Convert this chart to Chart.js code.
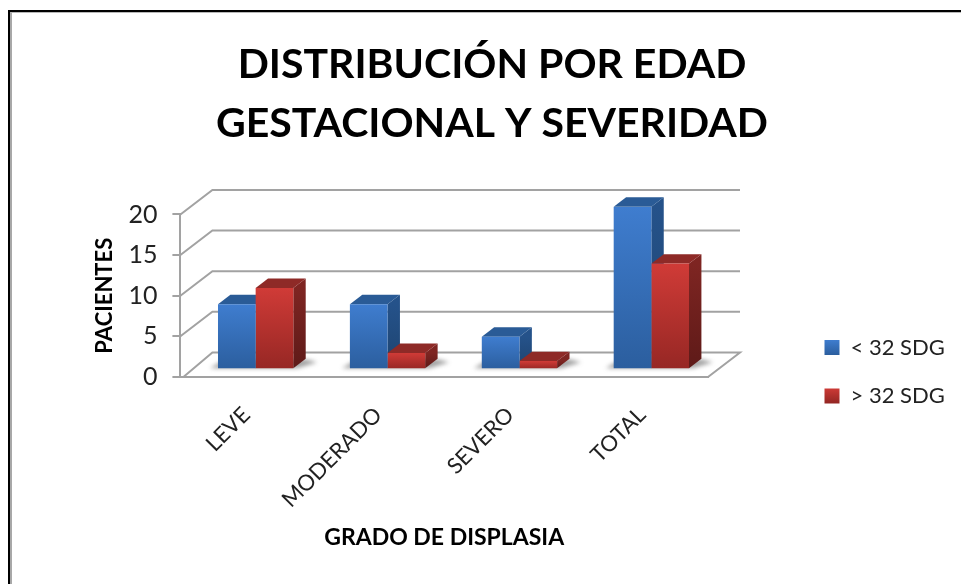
<!DOCTYPE html>
<html><head><meta charset="utf-8">
<style>
html,body{margin:0;padding:0;background:#fff;overflow:hidden;width:961px;height:584px}
#frameBlack{position:absolute;left:8px;top:10px;width:953px;height:574px;border-left:2px solid #000;border-top:2px solid #000;box-sizing:border-box}
#frameGray{position:absolute;left:10px;top:12px;width:951px;height:572px;border-left:2px solid #a8a8a8;border-top:1px solid #b8b8b8;box-sizing:border-box}
#wrap{position:absolute;left:0;top:0;width:961px;height:584px}
</style>
<script src="https://cdn.jsdelivr.net/npm/chart.js@4"></script>
</head><body>
<div id="frameBlack"></div><div id="frameGray"></div>
<div id="wrap"><canvas id="c" width="961" height="584"></canvas></div>
<script>
const categories = ['LEVE','MODERADO','SEVERO','TOTAL'];
const seriesNames = ['< 32 SDG','> 32 SDG'];
const under32 = [8,8,4,20];
const over32 = [10,2,1,13];
const titleLines = ['DISTRIBUCIÓN POR EDAD','GESTACIONAL Y SEVERIDAD'];
const yTitle = 'PACIENTES';
const xTitle = 'GRADO DE DISPLASIA';
const FONT = 'Lato';
const GRID = '#a2a2a2';
const DEPTH = {x:32,y:-24.5};
const BARPLANE = {x:9.3,y:-7.8};
const BARDEPTH = {x:12.4,y:-9.3};
const LEGEND_W = 188, LEGEND_LEFT = 798, LEGEND_TOP = 310;
const palette = [
 {top:'#3f7dcf',bot:'#2b5e9e',cap:'#2a5b96',sideT:'#25528a',sideB:'#1e4470'},
 {top:'#d03b37',bot:'#962724',cap:'#8e2a27',sideT:'#7e2522',sideB:'#5e1a18'}
];
function grad(ctx,y0,y1,a,b){const g=ctx.createLinearGradient(0,y0,0,y1);g.addColorStop(0,a);g.addColorStop(1,b);return g;}
function barFill(i){return c=>{
  const ch=c.chart, s=ch.scales.y;
  if(!s||!ch.chartArea||c.raw===undefined) return palette[i].top;
  return grad(ch.ctx,s.getPixelForValue(c.raw),s.getPixelForValue(0),palette[i].top,palette[i].bot);
};}
const threeD={
 id:'threeD',
 beforeDatasetsDraw(chart){
  const ctx=chart.ctx,{x,y}=chart.scales,a=chart.chartArea;
  const L=a.left,R=a.right,B=a.bottom;
  ctx.save();
  ctx.strokeStyle=GRID;ctx.lineWidth=2;
  ctx.beginPath();ctx.moveTo(L+3,B);ctx.lineTo(L+DEPTH.x,B+DEPTH.y);ctx.lineTo(R+DEPTH.x,B+DEPTH.y);ctx.lineTo(R,B);ctx.stroke();
  y.ticks.forEach(t=>{
    if(t.value===0) return;
    const p=y.getPixelForValue(t.value);
    ctx.beginPath();ctx.moveTo(L,p);ctx.lineTo(L+DEPTH.x,p+DEPTH.y);ctx.lineTo(R+DEPTH.x,p+DEPTH.y);ctx.stroke();
  });
  ctx.translate(BARPLANE.x,BARPLANE.y);
  chart.data.labels.forEach((_,i)=>{
    const b0=chart.getDatasetMeta(0).data[i],b1=chart.getDatasetMeta(1).data[i];
    const l=b0.x-b0.width/2,r=b1.x+b1.width/2,by=b0.base;
    ctx.save();ctx.filter='blur(2px)';ctx.fillStyle='rgba(70,70,70,.5)';
    ctx.beginPath();ctx.moveTo(l-8,by);ctx.lineTo(r+4,by);ctx.lineTo(r+24,by-6);ctx.lineTo(r+12,by-9);ctx.lineTo(l+2,by-6);ctx.closePath();ctx.fill();ctx.restore();
  });
  chart.data.datasets.forEach((d,di)=>{
    const pal=palette[di];
    chart.getDatasetMeta(di).data.forEach(b=>{
      const l=b.x-b.width/2,r=b.x+b.width/2,t=b.y,bo=b.base,dx=BARDEPTH.x,dy=BARDEPTH.y;
      ctx.fillStyle=grad(ctx,t,bo,pal.sideT,pal.sideB);
      ctx.beginPath();ctx.moveTo(r,t);ctx.lineTo(r+dx,t+dy);ctx.lineTo(r+dx,bo+dy);ctx.lineTo(r,bo);ctx.closePath();ctx.fill();
      ctx.fillStyle=pal.cap;
      ctx.beginPath();ctx.moveTo(l,t);ctx.lineTo(l+dx,t+dy);ctx.lineTo(r+dx,t+dy);ctx.lineTo(r,t);ctx.closePath();ctx.fill();
    });
  });
 },
 afterDatasetsDraw(chart){chart.ctx.restore();}
};
const placeLegend={
 id:'placeLegend',
 beforeLayout(chart){
   const l=chart.legend;
   if(!l._wide){const f=l.fit;l.fit=function(){f.call(this);this.width=LEGEND_W;};l._wide=true;}
 },
 afterLayout(chart){
   const l=chart.legend;
   l.left=LEGEND_LEFT;l.right=l.left+LEGEND_W;
   l.top=LEGEND_TOP;l.bottom=l.top+200;l.height=200;
 }
};
function legendLabels(chart){
  return seriesNames.map((n,i)=>({text:n,fillStyle:grad(chart.ctx,340+i*47.5,355+i*47.5,palette[i].top,palette[i].bot),strokeStyle:'rgba(0,0,0,0)',lineWidth:0,datasetIndex:i,fontColor:'#222',hidden:false}));
}
new Chart(document.getElementById('c'),{
 type:'bar',
 data:{labels:categories,datasets:[
  {label:seriesNames[0],data:under32,backgroundColor:barFill(0),borderWidth:0},
  {label:seriesNames[1],data:over32,backgroundColor:barFill(1),borderWidth:0}
 ]},
 plugins:[threeD,placeLegend],
 options:{
  responsive:false,animation:false,
  datasets:{bar:{categoryPercentage:0.571,barPercentage:1}},
  layout:{padding:{left:88,right:65,top:36,bottom:29}},
  plugins:{
   tooltip:{enabled:false},
   title:{display:true,text:titleLines,color:'#000',font:{family:FONT,size:41,weight:'bold',lineHeight:1.42},padding:{top:0,bottom:62}},
   legend:{position:'right',align:'start',labels:{generateLabels:legendLabels,boxWidth:15,boxHeight:15,padding:26.5,color:'#222',font:{family:FONT,size:22}}}
  },
  scales:{
   x:{afterFit:s=>{s.height-=20.5;},grid:{display:false},border:{color:GRID,width:2},
      ticks:{maxRotation:45,minRotation:45,autoSkip:false,color:'#222',labelOffset:0,padding:17,font:{family:FONT,size:22}},
      title:{display:true,text:xTitle,color:'#000',font:{family:FONT,size:23,weight:'bold'},padding:{top:14}}},
   y:{min:0,max:20,afterFit:s=>{s.width-=6;},
      grid:{drawOnChartArea:false,drawTicks:true,tickLength:8,color:GRID,lineWidth:2},border:{color:GRID,width:2},
      ticks:{stepSize:5,color:'#222',padding:15,font:{family:FONT,size:25}},
      title:{display:true,text:yTitle,color:'#000',font:{family:FONT,size:22,weight:'bold'},padding:{bottom:1}}}
  }
 }
});
</script>
</body></html>
